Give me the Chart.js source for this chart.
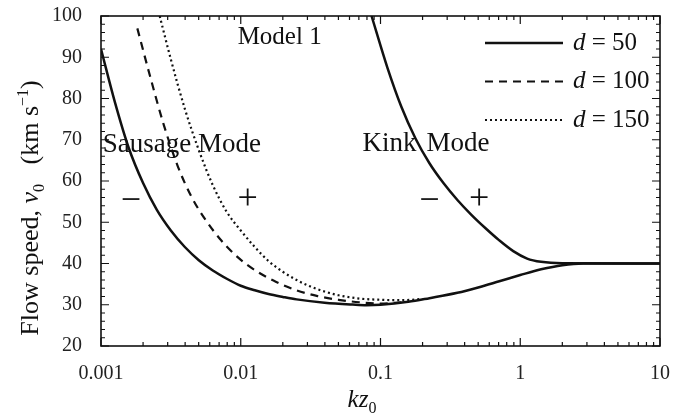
<!DOCTYPE html>
<html>
<head>
<meta charset="utf-8">
<script src="https://cdn.jsdelivr.net/npm/chart.js@4.4.1/dist/chart.umd.min.js"></script>
<style>
  html, body { margin: 0; padding: 0; background: #fff; }
  #flowChart { display: block; }
</style>
</head>
<body>
<canvas id="flowChart" width="687" height="419"></canvas>
<script>
// sausage mode, d = 50 (lower branch joins the kink mode near 40)
const kz50 = [0.001, 0.00126, 0.00158, 0.002, 0.00251, 0.00316, 0.00398, 0.00501, 0.00631, 0.00794, 0.01, 0.0126, 0.0158, 0.02, 0.0251, 0.0398, 0.0631, 0.0794, 0.1, 0.158, 0.224, 0.355, 0.5, 0.708, 1, 1.41, 2, 2.82, 10];
const v50 = [92, 79, 68, 59.5, 53, 48, 44, 40.8, 38.3, 36.3, 34.6, 33.5, 32.6, 31.9, 31.3, 30.5, 30.05, 29.9, 30.0, 30.7, 31.6, 32.9, 34.2, 35.7, 37.2, 38.6, 39.6, 40, 40];

// d = 100
const kz100 = [0.00182, 0.00224, 0.00282, 0.00355, 0.00447, 0.00562, 0.00708, 0.00891, 0.0112, 0.0141, 0.0178, 0.0251, 0.0355, 0.0501, 0.0708, 0.1, 0.141];
const v100 = [97, 85.5, 73.5, 63.5, 56, 50.5, 46, 42.4, 39.6, 37.4, 35.6, 33.5, 32.1, 31.2, 30.6, 30.3, 30.6];

// d = 150
const kz150 = [0.00263, 0.00316, 0.00398, 0.00501, 0.00631, 0.00794, 0.01, 0.0126, 0.0158, 0.02, 0.0251, 0.0316, 0.0398, 0.0501, 0.0708, 0.1, 0.141, 0.2];
const v150 = [100, 89.5, 77.5, 67.5, 59, 52.5, 48, 44, 40.6, 38, 36, 34.4, 33.2, 32.3, 31.5, 31.2, 31.1, 31.4];

// kink mode, upper branch
const kzKink = [0.0863, 0.112, 0.141, 0.178, 0.224, 0.282, 0.355, 0.447, 0.562, 0.708, 0.891, 1.12, 1.41, 2, 10];
const vKink = [100, 87.5, 78, 70.3, 64.3, 59.5, 55.4, 51.8, 48.6, 45.6, 43, 41.2, 40.4, 40.05, 40];

const xTicks = [0.001, 0.01, 0.1, 1, 10];
const xTickLabels = ["0.001", "0.01", "0.1", "1", "10"];
const yTicks = [20, 30, 40, 50, 60, 70, 80, 90, 100];

const legendLabels = ["50", "100", "150"];

const SERIF = "'Liberation Serif', 'DejaVu Serif', serif";
const INK = "#111";

function pts(xs, ys) {
    return xs.map((x, i) => ({ x: x, y: ys[i] }));
}

// inward ticks on all four sides + frame, annotations, legend, axis titles
const decorPlugin = {
    id: "decor",
    afterDatasetsDraw(chart) {
        const ctx = chart.ctx;
        const a = chart.chartArea;
        const sx = chart.scales.x;
        const sy = chart.scales.y;
        ctx.save();
        ctx.strokeStyle = INK;
        ctx.fillStyle = INK;

        // minor + major ticks
        ctx.lineWidth = 1.2;
        ctx.beginPath();
        for (let v = 20; v <= 100; v += 2) {
            const y = sy.getPixelForValue(v);
            const len = yTicks.includes(v) ? 8 : 4;
            ctx.moveTo(a.left, y); ctx.lineTo(a.left + len, y);
            ctx.moveTo(a.right, y); ctx.lineTo(a.right - len, y);
        }
        for (let d = 0; d < xTicks.length - 1; d++) {
            for (let m = 1; m <= 10; m++) {
                const v = xTicks[d] * m;
                const x = sx.getPixelForValue(v);
                const len = (m === 1 || m === 10) ? 8 : 4;
                ctx.moveTo(x, a.bottom); ctx.lineTo(x, a.bottom - len);
                ctx.moveTo(x, a.top); ctx.lineTo(x, a.top + len);
            }
        }
        ctx.stroke();

        ctx.lineWidth = 1.6;
        ctx.strokeRect(a.left, a.top, a.right - a.left, a.bottom - a.top);

        // text annotations
        ctx.textBaseline = "middle";
        ctx.textAlign = "left";
        ctx.font = "25px " + SERIF;
        ctx.fillText("Model 1", sx.getPixelForValue(0.0095), sy.getPixelForValue(94.7));
        ctx.font = "27px " + SERIF;
        ctx.fillText("Sausage Mode", sx.getPixelForValue(0.00103), sy.getPixelForValue(68.7));
        ctx.fillText("Kink", sx.getPixelForValue(0.0743), sy.getPixelForValue(68.9));
        ctx.fillText("Mode", sx.getPixelForValue(0.213), sy.getPixelForValue(68.9));

        ctx.textAlign = "center";
        ctx.font = "36px " + SERIF;
        ctx.fillText("\u2212", sx.getPixelForValue(0.00164), sy.getPixelForValue(55));
        ctx.fillText("+", sx.getPixelForValue(0.0112), sy.getPixelForValue(55.5));
        ctx.fillText("\u2212", sx.getPixelForValue(0.224), sy.getPixelForValue(55));
        ctx.fillText("+", sx.getPixelForValue(0.509), sy.getPixelForValue(55.5));

        // legend
        const sets = chart.data.datasets.slice(0, 3);
        sets.forEach((ds, i) => {
            const y = a.top + 27 + i * 38.5;
            ctx.lineWidth = ds.borderWidth;
            ctx.setLineDash(ds.borderDash || []);
            ctx.beginPath();
            ctx.moveTo(a.left + 384, y);
            ctx.lineTo(a.left + 462, y);
            ctx.stroke();
            ctx.setLineDash([]);
            ctx.textAlign = "left";
            ctx.font = "italic 25px " + SERIF;
            let x = a.left + 472;
            ctx.fillText("d", x, y);
            x += ctx.measureText("d").width;
            ctx.font = "25px " + SERIF;
            ctx.fillText(" = " + legendLabels[i], x, y);
        });

        // x title: kz0
        ctx.textAlign = "left";
        ctx.textBaseline = "alphabetic";
        ctx.font = "italic 25px " + SERIF;
        const kzW = ctx.measureText("kz").width;
        ctx.font = "16px " + SERIF;
        const subW = ctx.measureText("0").width;
        let tx = 362 - (kzW + subW) / 2;
        ctx.font = "italic 25px " + SERIF;
        ctx.fillText("kz", tx, 407);
        ctx.font = "16px " + SERIF;
        ctx.fillText("0", tx + kzW, 413);

        // y title: Flow speed, v0  (km s-1)
        ctx.translate(38, 208);
        ctx.rotate(-Math.PI / 2);
        const parts = [
            { t: "Flow speed, ", f: "26px " + SERIF, dy: 0 },
            { t: "v", f: "italic 26px " + SERIF, dy: 0 },
            { t: "0", f: "16px " + SERIF, dy: 6 },
            { t: "   (km s", f: "26px " + SERIF, dy: 0 },
            { t: "\u22121", f: "16px " + SERIF, dy: -10 },
            { t: ")", f: "26px " + SERIF, dy: 0 }
        ];
        let total = 0;
        parts.forEach(p => { ctx.font = p.f; p.w = ctx.measureText(p.t).width; total += p.w; });
        let px = -total / 2;
        parts.forEach(p => {
            ctx.font = p.f;
            ctx.fillText(p.t, px, p.dy);
            px += p.w;
        });
        ctx.restore();
    }
};

const lineBase = {
    pointRadius: 0,
    borderColor: INK,
    fill: false,
    cubicInterpolationMode: "monotone"
};

new Chart(document.getElementById("flowChart"), {
    type: "line",
    data: {
        datasets: [
            Object.assign({ label: "d = 50", data: pts(kz50, v50), borderWidth: 2.5 }, lineBase),
            Object.assign({ label: "d = 100", data: pts(kz100, v100), borderWidth: 2.2, borderDash: [8, 6] }, lineBase),
            Object.assign({ label: "d = 150", data: pts(kz150, v150), borderWidth: 2.2, borderDash: [2, 3] }, lineBase),
            Object.assign({ label: "kink", data: pts(kzKink, vKink), borderWidth: 2.5 }, lineBase)
        ]
    },
    options: {
        responsive: false,
        animation: false,
        devicePixelRatio: 1,
        layout: { padding: { left: 0, right: 27, top: 16, bottom: 0 } },
        plugins: {
            legend: { display: false },
            tooltip: { enabled: false }
        },
        scales: {
            x: {
                type: "logarithmic",
                min: 0.001,
                max: 10,
                grid: { display: false, drawTicks: false },
                border: { display: false },
                afterBuildTicks: s => { s.ticks = xTicks.map(v => ({ value: v })); },
                afterFit: s => { s.height = 73; s.paddingLeft = 0; s.paddingRight = 0; },
                ticks: {
                    color: "#222",
                    font: { family: SERIF, size: 20 },
                    padding: 16,
                    maxRotation: 0,
                    autoSkip: false,
                    callback: v => {
                        const i = xTicks.indexOf(v);
                        return i >= 0 ? xTickLabels[i] : "";
                    }
                }
            },
            y: {
                min: 20,
                max: 100,
                grid: { display: false, drawTicks: false },
                border: { display: false },
                afterBuildTicks: s => { s.ticks = yTicks.map(v => ({ value: v })); },
                afterFit: s => { s.width = 101; s.paddingTop = 0; s.paddingBottom = 0; },
                ticks: {
                    color: "#222",
                    font: { family: SERIF, size: 20 },
                    padding: 19
                }
            }
        }
    },
    plugins: [decorPlugin]
});
</script>
</body>
</html>
